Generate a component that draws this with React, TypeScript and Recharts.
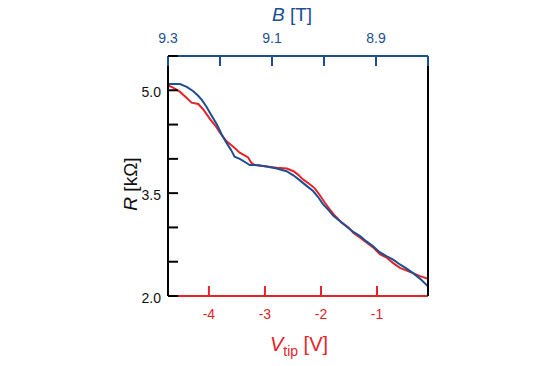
import { LineChart, Line, XAxis, YAxis, Label } from 'recharts';

const BLUE = '#1d4f91';
const RED = '#e3242b';
const FONT = '"Liberation Sans", Arial, Helvetica, sans-serif';

// bottom axis (V_tip) ticks and top axis (B) ticks
const vtipTicks = [-4, -3, -2, -1];
const bTicks = [9.3, 9.2, 9.1, 9.0, 8.9, 8.8];
const bLabeled = [9.3, 9.1, 8.9];
const rTicks = [2.0, 2.5, 3.0, 3.5, 4.0, 4.5, 5.0, 5.5];
const rLabeled = [2.0, 3.5, 5.0];

// red trace: R vs V_tip
const vtipRed = [-4.73, -4.64, -4.52, -4.40, -4.31, -4.19, -4.10, -3.98, -3.89, -3.80, -3.69, -3.57, -3.45, -3.30, -3.24, -3.18, -2.97, -2.79, -2.61, -2.49, -2.41, -2.32, -2.20, -2.11, -2.02, -1.93, -1.84, -1.75, -1.63, -1.51, -1.42, -1.30, -1.19, -1.07, -0.95, -0.83, -0.71, -0.59, -0.47, -0.35, -0.23, -0.09];
const rRed = [5.07, 5.04, 4.98, 4.89, 4.82, 4.80, 4.72, 4.58, 4.49, 4.38, 4.26, 4.18, 4.09, 4.02, 3.94, 3.91, 3.89, 3.87, 3.86, 3.82, 3.77, 3.70, 3.63, 3.57, 3.47, 3.36, 3.26, 3.17, 3.07, 3.00, 2.92, 2.85, 2.78, 2.71, 2.61, 2.56, 2.48, 2.41, 2.37, 2.33, 2.29, 2.25];

// blue trace: R vs B (top axis)
const bBlue = [9.300, 9.277, 9.264, 9.252, 9.242, 9.235, 9.226, 9.216, 9.206, 9.197, 9.188, 9.178, 9.172, 9.162, 9.149, 9.143, 9.130, 9.110, 9.091, 9.072, 9.059, 9.047, 9.034, 9.021, 9.011, 9.002, 8.992, 8.982, 8.969, 8.956, 8.943, 8.930, 8.919, 8.906, 8.893, 8.880, 8.867, 8.854, 8.841, 8.828, 8.815, 8.800];
const rBlue = [5.09, 5.09, 5.05, 4.99, 4.92, 4.86, 4.76, 4.63, 4.50, 4.36, 4.24, 4.12, 4.03, 4.00, 3.94, 3.91, 3.91, 3.89, 3.86, 3.82, 3.76, 3.69, 3.61, 3.53, 3.44, 3.34, 3.26, 3.17, 3.09, 3.01, 2.93, 2.87, 2.80, 2.73, 2.64, 2.58, 2.53, 2.46, 2.40, 2.33, 2.25, 2.14];

const redData = vtipRed.map((v, i) => ({ v, r: rRed[i] }));
const blueData = bBlue.map((b, i) => ({ b, r: rBlue[i] }));

const TICK_LEN = 10;

const BottomTick = ({ x, y, payload }: any) => (
  <g>
    <line x1={x} y1={y} x2={x} y2={y - TICK_LEN} stroke={RED} strokeWidth={2} />
    <text x={x} y={y + 23} textAnchor="middle" fill={RED} fontSize={14} fontFamily={FONT}>
      {payload.value}
    </text>
  </g>
);

const TopTick = ({ x, y, payload }: any) => (
  <g>
    <line x1={x} y1={y} x2={x} y2={y + TICK_LEN} stroke={BLUE} strokeWidth={2} />
    {bLabeled.includes(payload.value) && (
      <text x={x} y={y - 13} textAnchor="middle" fill={BLUE} fontSize={14} fontFamily={FONT}>
        {payload.value.toFixed(1)}
      </text>
    )}
  </g>
);

const LeftTick = ({ x, y, payload }: any) => (
  <g>
    <line x1={x} y1={y} x2={x + TICK_LEN} y2={y} stroke="#000" strokeWidth={2} />
    {rLabeled.includes(payload.value) && (
      <text x={x - 7} y={y + 7} textAnchor="end" fill="#111" fontSize={14} fontFamily={FONT}>
        {payload.value.toFixed(1)}
      </text>
    )}
  </g>
);

export default function App() {
  return (
    <div style={{ margin: '-8px 0 0 -8px' }}>
      <LineChart
        width={545}
        height={366}
        margin={{ top: 55, right: 116, bottom: 69, left: 167 }}
      >
        <XAxis
          dataKey="v"
          type="number"
          domain={[-4.73, -0.09]}
          ticks={vtipTicks}
          allowDataOverflow
          height={1}
          tickSize={0}
          tickMargin={0}
          tickLine={false}
          tick={<BottomTick />}
          axisLine={{ stroke: RED, strokeWidth: 2 }}
        >
          <Label
            content={() => (
              <text x={299} y={351} textAnchor="middle" fill={RED} fontSize={20} fontFamily={FONT}>
                <tspan fontStyle="italic">V</tspan>
                <tspan fontSize={14} dy={5}>tip</tspan>
                <tspan dy={-5}> [V]</tspan>
              </text>
            )}
          />
        </XAxis>
        <XAxis
          xAxisId="b"
          dataKey="b"
          orientation="top"
          type="number"
          domain={[8.8, 9.3]}
          reversed
          ticks={bTicks}
          allowDataOverflow
          height={1}
          tickSize={0}
          tickMargin={0}
          tickLine={false}
          tick={<TopTick />}
          axisLine={{ stroke: BLUE, strokeWidth: 2 }}
        >
          <Label
            content={() => (
              <text x={292} y={21} textAnchor="middle" fill={BLUE} fontSize={19} fontFamily={FONT}>
                <tspan fontStyle="italic">B</tspan>
                <tspan> [T]</tspan>
              </text>
            )}
          />
        </XAxis>
        <YAxis
          type="number"
          domain={[2, 5.5]}
          ticks={rTicks}
          allowDataOverflow
          width={1}
          tickSize={0}
          tickMargin={0}
          tickLine={false}
          tick={<LeftTick />}
          axisLine={{ stroke: '#000', strokeWidth: 2 }}
        >
          <Label
            content={() => (
              <text
                x={137}
                y={184}
                transform="rotate(-90 137 184)"
                textAnchor="middle"
                fill="#111"
                fontSize={19}
                fontFamily={FONT}
              >
                <tspan fontStyle="italic">R</tspan>
                <tspan> [kΩ]</tspan>
              </text>
            )}
          />
        </YAxis>
        <YAxis
          yAxisId="r"
          orientation="right"
          type="number"
          domain={[2, 5.5]}
          width={1}
          tick={false}
          tickLine={false}
          axisLine={{ stroke: '#000', strokeWidth: 2 }}
        />
        <Line
          data={redData}
          dataKey="r"
          type="linear"
          stroke={RED}
          strokeWidth={2}
          dot={false}
          isAnimationActive={false}
        />
        <Line
          data={blueData}
          xAxisId="b"
          dataKey="r"
          type="linear"
          stroke={BLUE}
          strokeWidth={2}
          dot={false}
          isAnimationActive={false}
        />
      </LineChart>
    </div>
  );
}
